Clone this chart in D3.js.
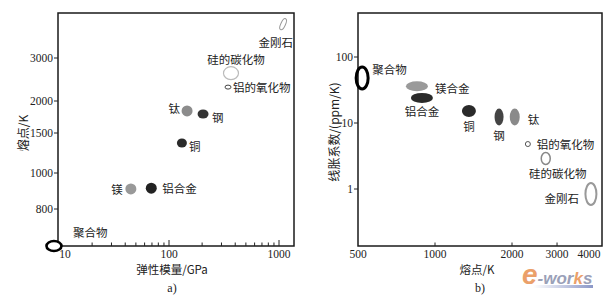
<!DOCTYPE html>
<html>
<head>
<meta charset="utf-8">
<script src="https://cdn.jsdelivr.net/npm/d3@7"></script>
<style>
  body { margin: 0; background: #fff; }
  text { font-family: "Liberation Serif", "Noto Sans CJK SC", serif; fill: #222; }
  .cjk { font-family: "Noto Sans CJK SC", sans-serif; }
</style>
</head>
<body>
<svg id="chart" width="607" height="301"></svg>
<script>
// materials (same order in both panels)
const materials = ["polymer", "mg", "al", "cu", "ti", "steel", "al2o3", "sic", "diamond"];
const labelsA = ["聚合物", "镁", "铝合金", "铜", "钛", "钢", "铝的氧化物", "硅的碳化物", "金刚石"];
const labelsB = ["聚合物", "镁合金", "铝合金", "铜", "钛", "钢", "铝的氧化物", "硅的碳化物", "金刚石"];

// panel a) elastic modulus vs melting point
const modulusGPa = [9, 45, 69, 131, 146, 204, 344, 366, 1090];
const meltingA = [630, 906, 910, 1356, 1830, 1780, 2280, 2600, 4000];

// panel b) melting point vs thermal expansion
const meltingB = [519, 850, 889, 1357, 2050, 1780, 2307, 2710, 4070];
const cte = [48, 36, 24, 15.2, 12.3, 12.3, 4.8, 2.9, 0.84];

// tick labels
const ticksAx = [10, 100, 1000];
const minorAx = [20, 30, 40, 50, 60, 70, 80, 90, 200, 300, 400, 500, 600, 700, 800, 900];
const ticksAy = [800, 1000, 1500, 2000, 3000];
const ticksBx = [500, 1000, 2000, 3000, 4000];
const ticksBy = [1, 10, 100];

// marker look per material (rx, ry, fill, stroke, stroke width, rotation)
const styleA = {
  polymer: [7.5, 5, "#fff", "#000", 2.6, 0],
  mg: [5.5, 5.5, "#999", "none", 0, 0],
  al: [5.5, 5.5, "#222", "none", 0, 0],
  cu: [5, 4.5, "#2a2a2a", "none", 0, 0],
  ti: [5.5, 5.5, "#8c8c8c", "none", 0, 0],
  steel: [5.5, 4.5, "#333", "none", 0, 0],
  al2o3: [3, 2, "none", "#444", 1, 0],
  sic: [7.5, 6.5, "none", "#bbb", 1.2, 0],
  diamond: [2.3, 6, "none", "#999", 1, 25]
};
const styleB = {
  polymer: [6, 11, "none", "#000", 3, 0],
  mg: [11, 5, "#9a9a9a", "none", 0, 0],
  al: [11, 5, "#2a2a2a", "none", 0, 0],
  cu: [7, 6, "#2a2a2a", "none", 0, 0],
  ti: [5, 8.5, "#8a8a8a", "none", 0, 0],
  steel: [4.5, 8.5, "#444", "none", 0, 0],
  al2o3: [2.5, 2.5, "none", "#555", 1, 0],
  sic: [4.5, 6, "none", "#888", 1.5, 0],
  diamond: [5.5, 11, "none", "#999", 2, 0]
};
// label placement relative to marker: dx, dy, anchor
const labelPosA = {
  polymer: [19, -14, "start"], mg: [-8, 0, "end"], al: [11, 0, "start"],
  cu: [7, 3, "start"], ti: [-7, -3, "end"], steel: [9, 3, "start"],
  al2o3: [5, 0, "start"], sic: [5, -14, "middle"], diamond: [10, 18, "end"]
};
const labelPosB = {
  polymer: [10, -9, "start"], mg: [18, 2, "start"], al: [0, 13, "middle"],
  cu: [0, 15, "middle"], ti: [13, 2, "start"], steel: [0, 18, "middle"],
  al2o3: [9, 0, "start"], sic: [12, 15, "middle"], diamond: [-12, 4, "end"]
};

const svg = d3.select("#chart");

// ---------- panel a) ----------
const pa = { left: 58, right: 294, top: 13, bottom: 246 };
const xA = d3.scaleLog().domain([10, 1000]).range([59, 279]);
// the original y axis is hand-drawn, so use a piecewise log scale through its ticks
const yA = d3.scaleLog()
  .domain([630, 800, 1000, 1500, 2000, 3000, 4400])
  .range([246, 209, 173, 133, 101, 58, 13]);

// ---------- panel b) ----------
const pb = { left: 358, right: 602, top: 13, bottom: 246 };
const xB = d3.scaleLog().domain([500, 4000]).range([358, 589]);
const yB = d3.scaleLog().domain([1, 100]).range([189, 57]);

function frame(p) {
  svg.append("rect")
    .attr("x", p.left).attr("y", p.top)
    .attr("width", p.right - p.left).attr("height", p.bottom - p.top)
    .attr("fill", "none").attr("stroke", "#1a1a1a").attr("stroke-width", 1.5);
}
frame(pa);
frame(pb);

// a) x ticks, pointing up from the bottom edge
const gA = svg.append("g");
gA.selectAll(".minor").data(minorAx).enter().append("line")
  .attr("x1", (d) => xA(d)).attr("x2", (d) => xA(d))
  .attr("y1", pa.bottom).attr("y2", pa.bottom - 3.5)
  .attr("stroke", "#222").attr("stroke-width", 1);
gA.selectAll(".major").data(ticksAx.slice(1)).enter().append("line")
  .attr("x1", (d) => xA(d)).attr("x2", (d) => xA(d))
  .attr("y1", pa.bottom).attr("y2", pa.bottom - 6)
  .attr("stroke", "#222").attr("stroke-width", 1);
gA.selectAll(".xl").data(ticksAx).enter().append("text")
  .attr("x", (d) => xA(d) + (d === 10 ? 6 : 0))
  .attr("y", 258)
  .attr("text-anchor", "middle")
  .style("font-size", "11.5px")
  .text((d) => d);

// a) y ticks, outward
gA.selectAll(".yt").data(ticksAy).enter().append("line")
  .attr("x1", pa.left - 4).attr("x2", pa.left)
  .attr("y1", (d) => yA(d)).attr("y2", (d) => yA(d))
  .attr("stroke", "#222").attr("stroke-width", 1);
gA.selectAll(".yl").data(ticksAy).enter().append("text")
  .attr("x", pa.left - 5)
  .attr("y", (d) => yA(d) + 4)
  .attr("text-anchor", "end")
  .style("font-size", "11.5px")
  .text((d) => d);

// b) x ticks
const gB = svg.append("g");
gB.selectAll(".xt").data(ticksBx.slice(1, 4)).enter().append("line")
  .attr("x1", (d) => xB(d)).attr("x2", (d) => xB(d))
  .attr("y1", pb.bottom).attr("y2", pb.bottom - 3.5)
  .attr("stroke", "#222").attr("stroke-width", 1);
gB.selectAll(".xl").data(ticksBx).enter().append("text")
  .attr("x", (d) => xB(d))
  .attr("y", 258)
  .attr("text-anchor", "middle")
  .style("font-size", "11.5px")
  .text((d) => d);
gB.selectAll(".yt").data(ticksBy).enter().append("line")
  .attr("x1", pb.left - 4).attr("x2", pb.left)
  .attr("y1", (d) => yB(d)).attr("y2", (d) => yB(d))
  .attr("stroke", "#222").attr("stroke-width", 1);
gB.selectAll(".yl").data(ticksBy).enter().append("text")
  .attr("x", pb.left - 5)
  .attr("y", (d) => yB(d) + 4)
  .attr("text-anchor", "end")
  .style("font-size", "11.5px")
  .text((d) => d);

// markers + labels
function drawPoints(g, xs, ys, x, y, labels, styles, pos) {
  const rows = materials.map((m, i) => ({ m, x: x(xs[i]), y: y(ys[i]), label: labels[i] }));
  g.selectAll(".pt").data(rows).enter().append("ellipse")
    .attr("transform", (d) => `translate(${d.x},${d.y}) rotate(${styles[d.m][5]})`)
    .attr("rx", (d) => styles[d.m][0])
    .attr("ry", (d) => styles[d.m][1])
    .attr("fill", (d) => styles[d.m][2])
    .attr("stroke", (d) => styles[d.m][3])
    .attr("stroke-width", (d) => styles[d.m][4]);
  g.selectAll(".lab").data(rows).enter().append("text")
    .attr("class", "cjk")
    .attr("x", (d) => d.x + pos[d.m][0])
    .attr("y", (d) => d.y + pos[d.m][1])
    .attr("text-anchor", (d) => pos[d.m][2])
    .attr("dominant-baseline", "central")
    .style("font-size", "11.5px")
    .text((d) => d.label);
}
drawPoints(gA, modulusGPa, meltingA, xA, yA, labelsA, styleA, labelPosA);
drawPoints(gB, meltingB, cte, xB, yB, labelsB, styleB, labelPosB);

// axis titles
svg.append("text").attr("class", "cjk")
  .attr("x", 172).attr("y", 274).attr("text-anchor", "middle")
  .style("font-size", "11.5px").text("弹性模量/GPa");
svg.append("text").attr("class", "cjk")
  .attr("transform", "translate(22,133) rotate(-90)")
  .attr("text-anchor", "middle").attr("dominant-baseline", "central")
  .style("font-size", "12px").text("熔点/K");
svg.append("text")
  .attr("x", 172).attr("y", 292).attr("text-anchor", "middle")
  .style("font-size", "12px").text("a)");

svg.append("text").attr("class", "cjk")
  .attr("x", 477).attr("y", 274).attr("text-anchor", "middle")
  .style("font-size", "11.5px").text("熔点/K");
svg.append("text").attr("class", "cjk")
  .attr("transform", "translate(333,132) rotate(-90)")
  .attr("text-anchor", "middle").attr("dominant-baseline", "central")
  .style("font-size", "12px").text("线胀系数/(ppm/K)");
svg.append("text")
  .attr("x", 480).attr("y", 292).attr("text-anchor", "middle")
  .style("font-size", "12px").text("b)");

// e-works watermark
const defs = svg.append("defs");
const grad = defs.append("linearGradient").attr("id", "bar");
grad.append("stop").attr("offset", "0%").attr("stop-color", "#fff");
grad.append("stop").attr("offset", "100%").attr("stop-color", "#8c98c8");
svg.append("rect").attr("x", 533).attr("y", 285).attr("width", 60).attr("height", 3)
  .attr("fill", "url(#bar)");
const logo = svg.append("text")
  .attr("x", 522).attr("y", 284)
  .style("font-family", "Liberation Sans, sans-serif")
  .style("font-style", "italic").style("font-weight", "bold");
logo.append("tspan").style("font-size", "28px").style("fill", "#eba06a").text("e");
logo.append("tspan").style("font-size", "17px").style("fill", "#9aa0b8").text("-wor");
logo.append("tspan").style("font-size", "17px").style("fill", "#eba06a").text("k");
logo.append("tspan").style("font-size", "17px").style("fill", "#9aa0b8").text("s");
</script>
</body>
</html>
